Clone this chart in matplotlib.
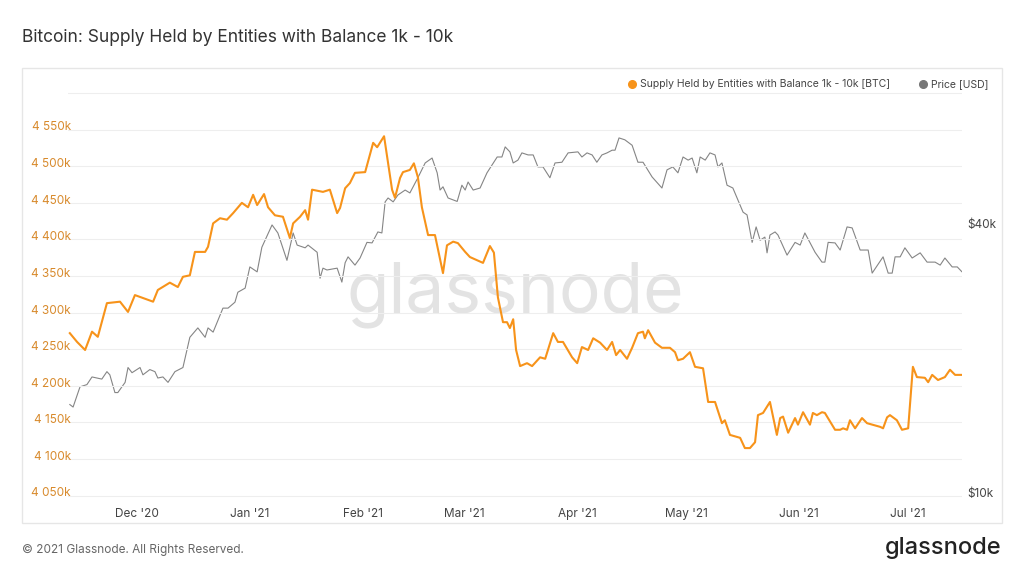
import numpy as np
import pandas as pd
import matplotlib
import matplotlib.pyplot as plt
from matplotlib.patches import Rectangle
from matplotlib.lines import Line2D
from matplotlib.ticker import FixedLocator, FuncFormatter, NullLocator

matplotlib.use("Agg")

START = pd.Timestamp("2020-11-12")

# Supply held by entities with 1k-10k BTC (thousands of BTC), days after START
supply_days = [0.5, 2.5, 4.7, 6.6, 8.2, 10.7, 14.3, 16.5, 18.4, 23.4, 24.7, 28, 30.2, 31.6, 33.5, 34.9,
               37.7, 38.5, 39.9, 41.8, 43.7, 45.4, 47.8, 49.5, 50.9, 52, 53.9, 55, 56.9, 59.1, 61, 61.9,
               63.8, 65.2, 66, 67.1, 70.1, 72, 74, 74.8, 76.2, 77.5, 78.9, 81.7, 83.9, 85, 86.9, 89.1,
               89.9, 91.3, 92.1, 94, 95.1, 96.2, 97.3, 99, 100.9, 103.1, 104.2, 105.9, 107.2, 109.2,
               110.5, 114.1, 116, 117.1, 118.2, 119.6, 120.7, 121.5, 122.4, 123.2, 124.3, 126.2, 127.6,
               129.8, 131.2, 133.4, 134.7, 136.1, 138.6, 140, 141.3, 143, 144.4, 146.3, 148.2, 149.6,
               150.7, 151.8, 153.7, 155.1, 156.7, 158.1, 158.6, 159.5, 161.4, 163.3, 165.5, 166.9,
               167.7, 169.1, 171, 172.4, 174.6, 176, 177.9, 179.8, 180.6, 182, 184.8, 186.1, 187.5,
               188.9, 189.7, 191.1, 193, 194.9, 195.8, 196.6, 198, 199.9, 200.7, 202.1, 204, 204.8,
               205.9, 207.3, 208.1, 210.9, 212.3, 213.1, 214.2, 215, 216.4, 218.3, 219.7, 223.3, 224.1,
               225.2, 226, 227.9, 229.3, 231, 232.3, 233.4, 235.6, 236.5, 237.6, 239.2, 241.1, 242.5,
               243.9, 245.8]
supply_k = [4267, 4255, 4244, 4269, 4262, 4308, 4310, 4296, 4319, 4310, 4326, 4336, 4330, 4344, 4346, 4378,
            4378, 4385, 4417, 4424, 4422, 4431, 4445, 4439, 4456, 4442, 4457, 4439, 4428, 4426, 4397, 4417,
            4426, 4435, 4422, 4463, 4460, 4463, 4431, 4438, 4465, 4472, 4486, 4487, 4527, 4521, 4536, 4463,
            4452, 4479, 4487, 4490, 4499, 4480, 4439, 4401, 4401, 4349, 4387, 4392, 4390, 4378,
            4371, 4363, 4386, 4377, 4316, 4282, 4282, 4274, 4286, 4244, 4222, 4226, 4222,
            4234, 4232, 4267, 4255, 4255, 4234, 4226, 4248, 4244, 4260, 4254, 4244, 4255,
            4237, 4244, 4232, 4247, 4267, 4269, 4260, 4271, 4254, 4247, 4247, 4241,
            4230, 4232, 4241, 4221, 4219, 4173, 4173, 4144, 4148, 4128, 4124, 4110, 4110,
            4118, 4155, 4158, 4173, 4128, 4151, 4153, 4131, 4151, 4142, 4159, 4142, 4158,
            4155, 4159, 4158, 4135, 4135, 4137, 4135, 4148, 4137, 4151, 4144, 4139, 4137,
            4152, 4155, 4148, 4135, 4137, 4221, 4207, 4206, 4200, 4210, 4203, 4207, 4217,
            4210, 4210]

# BTC price (thousands of USD), days after START
price_days = [0.5, 1.4, 3.3, 5.2, 6.6, 9.3, 10.7, 11.5, 12.9, 13.7, 15.7, 16.5, 17.6, 19.8, 20.6, 22.5,
              23.9, 24.7, 26.1, 27.5, 29.4, 31.6, 33.5, 35.7, 37.7, 38.5, 39.9, 42.6, 44, 45.9, 46.7,
              48.7, 50, 52, 53.3, 56.1, 57.7, 60.2, 61.9, 63, 65.2, 66, 68.5, 69.3, 70.1, 71.2, 74,
              75.3, 76.2, 77, 78.9, 80.3, 82.2, 83.6, 85.2, 86.3, 87.2, 88, 89.4, 90.7, 92.7, 94, 96.2,
              98.2, 100.1, 101.5, 102.3, 103.1, 104.5, 107, 108.3, 109.2, 110, 111.4, 113.3, 115.2,
              118, 119.3, 120.2, 121.5, 122.4, 123.7, 124.8, 126.5, 127.9, 129.2, 130.6, 132.5, 133.9,
              135.8, 137.5, 140.2, 141.3, 142.7, 144.1, 145.4, 146.8, 148.2, 149.6, 150.4, 151.5,
              153.1, 155.1, 156.7, 158.1, 160.6, 163.3, 164.7, 166.3, 167.7, 169.1, 170.5, 171.6,
              172.9, 173.8, 175.2, 176.5, 177.9, 178.7, 179.8, 181.2, 182.8, 184.2, 185.6, 186.7,
              188.1, 189.2, 190.3, 191.6, 192.2, 193, 194.4, 195.2, 197.7, 199.9, 201.3, 202.6, 205.4,
              207.3, 208.1, 209, 210.9, 212.3, 214.2, 215.6, 217.8, 220, 221.1, 224.1, 225.5, 226.6,
              227.4, 228.8, 230.1, 232.1, 234.3, 236.2, 238.4, 239.8, 241.1, 243.1, 244.5, 245.8, 246.6]
price_k = [15.7, 15.5, 17.2, 17.4, 18.1, 17.9, 18.6, 18.3, 16.7, 16.7, 17.6, 19.0, 18.5, 19.0, 18.3, 18.8,
           18.6, 18.0, 18.1, 17.6, 18.6, 19.0, 22.2, 23.3, 22.2, 23.3, 22.8, 25.8, 25.8, 26.6, 28.0,
           28.6, 31.9, 31.1, 35.3, 39.6, 38.0, 33.0, 38.0, 35.7, 35.2, 35.7, 34.4, 30.1, 31.7, 31.4, 31.7,
           29.5, 32.6, 33.6, 32.2, 33.4, 36.2, 36.1, 38.2, 38.0, 44.6, 45.5, 44.6, 46.2, 47.4, 46.7, 50.5,
           54.5, 55.9, 51.8, 47.4, 48.2, 45.5, 44.7, 48.6, 47.4, 49.4, 47.4, 47.9, 51.8,
           56.2, 56.2, 59.2, 57.7, 54.5, 55.3, 57.4, 56.8, 56.8, 53.4, 53.4, 50.5, 54.5,
           54.7, 57.4, 57.7, 56.2, 57.4, 56.8, 54.7, 56.8, 57.4, 58.2, 58.2, 62.0,
           61.4, 59.7, 54.7, 54.7, 50.7, 47.9, 52.6, 53.4, 51.8, 56.2, 55.3, 55.9,
           51.8, 56.2, 55.3, 57.4, 56.8, 53.4, 54.5, 48.6, 47.9, 45.0, 42.3, 41.7,
           36.2, 39.2, 36.6, 37.2, 34.3, 37.6, 38.2, 37.6, 33.9, 36.2, 35.7, 38.0, 34.4,
           32.7, 32.7, 36.2, 36.1, 34.8, 39.2, 39.0, 34.8, 34.8, 30.9, 33.6, 30.9, 30.9,
           33.6, 33.6, 35.2, 33.4, 34.3, 32.7, 32.7, 32.2, 33.4, 31.9, 31.9, 31.1, 31.4]

left_ticks = [4050, 4100, 4150, 4200, 4250, 4300, 4350, 4400, 4450, 4500, 4550]
grid_levels = left_ticks + [4600]
right_ticks = [10, 40]
month_ticks = ["2020-12-01", "2021-01-01", "2021-02-01", "2021-03-01", "2021-04-01",
               "2021-05-01", "2021-06-01", "2021-07-01"]
month_labels = ["Dec '20", "Jan '21", "Feb '21", "Mar '21", "Apr '21", "May '21", "Jun '21", "Jul '21"]

ORANGE = "#f7931a"
GRAY = "#858585"
TICK_ORANGE = "#d88a2c"

W, H = 1024, 576
plt.rcParams["font.family"] = "Inter"
fig = plt.figure(figsize=(W / 100, H / 100), dpi=100)
fig.patch.set_facecolor("white")

# panel frame (behind the axes)
frame = Rectangle((22 / W, 1 - 523 / H), 980 / W, 455 / H, transform=fig.transFigure,
                  facecolor="white", edgecolor="#e6e6e6", linewidth=1, zorder=-5)
fig.add_artist(frame)

# axes: y=86 px (top) .. 501 px (bottom)
ax = fig.add_axes([68 / W, 1 - 501 / H, 894 / W, 415 / H])
ax2 = ax.twinx()

sd = START + pd.to_timedelta(supply_days, unit="D")
pdays = START + pd.to_timedelta(price_days, unit="D")

# watermark under the lines
ax2.text(0.5, 1 - (295 - 86) / 415, "glassnode", transform=ax2.transAxes, fontsize=50,
         color="#e3e3e3", ha="center", va="center", zorder=0)
ax2.plot(pdays, np.array(price_k) * 1000, color=GRAY, linewidth=0.8, zorder=2)
ax.plot(sd, np.array(supply_k), color=ORANGE, linewidth=1.5, zorder=3)
ax.set_zorder(ax2.get_zorder() + 1)
ax.patch.set_visible(False)
ax2.patch.set_visible(False)

ax.set_xlim(START, START + pd.Timedelta(days=245.8))
ax.set_ylim(4550 - (501 - 126) / 0.732, 4550 + (126 - 86) / 0.732)
ax2.set_yscale("log")
ax2.set_ylim(40000 * 10 ** (-(501 - 223) / 447), 40000 * 10 ** ((223 - 86) / 447))

for g in grid_levels:
    ax.axhline(g - 5, color="#eeeeee", linewidth=0.8, zorder=0)

ax.yaxis.set_major_locator(FixedLocator(left_ticks))
ax.yaxis.set_major_formatter(FuncFormatter(lambda v, p: f"{int(v) // 1000} {int(v) % 1000:03d}k"))
ax.tick_params(axis="y", colors=TICK_ORANGE, labelsize=8.5, length=0, pad=-2)
for lbl in ax.get_yticklabels():
    lbl.set_horizontalalignment("right")

ax2.yaxis.set_major_locator(FixedLocator([v * 1000 for v in right_ticks]))
ax2.yaxis.set_minor_locator(NullLocator())
ax2.yaxis.set_major_formatter(FuncFormatter(lambda v, p: f"${int(v / 1000)}k"))
ax2.tick_params(axis="y", colors="#444444", labelsize=8.5, length=0, pad=4)

ax.set_xticks(pd.to_datetime(month_ticks))
ax.set_xticklabels(month_labels)
ax.tick_params(axis="x", colors="#444444", labelsize=8.5, length=0, pad=5)

for a in (ax, ax2):
    for s in a.spines.values():
        s.set_visible(False)

# legend
fig.add_artist(Line2D([632 / W], [1 - 84 / H], marker="o", markersize=5.5, color=ORANGE,
                      transform=fig.transFigure))
fig.text(640 / W, 1 - 84 / H, "Supply Held by Entities with Balance 1k - 10k [BTC]", color="#444444",
         fontsize=7.5, va="center")
fig.add_artist(Line2D([923 / W], [1 - 84 / H], marker="o", markersize=5.5, color="#777777",
                      transform=fig.transFigure))
fig.text(931 / W, 1 - 84 / H, "Price [USD]", color="#444444", fontsize=7.5, va="center")

fig.text(22 / W, 1 - 37 / H, "Bitcoin: Supply Held by Entities with Balance 1k - 10k", fontsize=12.5,
         color="#333333", va="center")
fig.text(22 / W, 1 - 550 / H, "\u00A9 2021 Glassnode. All Rights Reserved.", fontsize=8.5,
         color="#666666", va="center")
fig.text(1002 / W, 1 - 548 / H, "glassnode", fontsize=17, color="#222222", va="center", ha="right",
         fontweight="medium")

fig.savefig("out.png", dpi=100)
plt.close(fig)
